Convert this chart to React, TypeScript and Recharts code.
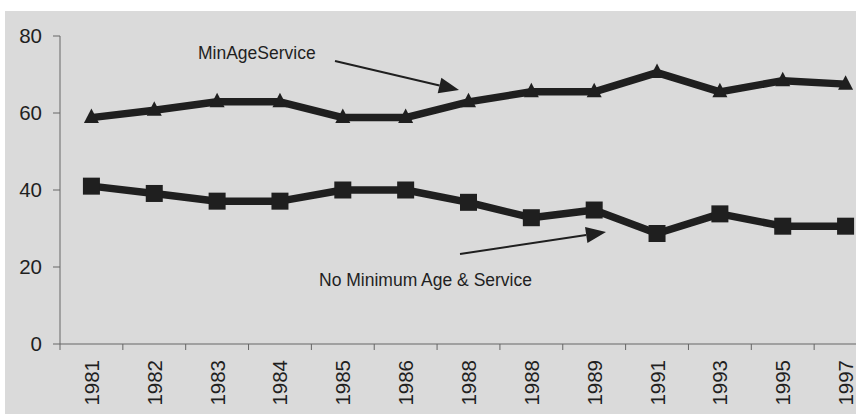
import { LineChart, Line, XAxis, YAxis } from 'recharts';

const years = ['1981', '1982', '1983', '1984', '1985', '1986', '1988', '1988', '1989', '1991', '1993', '1995', '1997'];
const minAgeService = [58.8, 60.7, 62.9, 62.9, 58.8, 58.8, 62.9, 65.5, 65.5, 70.5, 65.5, 68.4, 67.5];
const noMinimum = [41, 39.1, 37.1, 37.1, 40, 40, 36.8, 32.8, 34.8, 28.7, 33.8, 30.6, 30.6];
const yTicks = [0, 20, 40, 60, 80];

const data = years.map((year, i) => ({
  year,
  minAge: minAgeService[i],
  noMin: noMinimum[i],
}));

const FONT = '"Liberation Sans", Arial, Helvetica, sans-serif';
const INK = '#1f1f1f';
const CHART_W = 900;
const CHART_H = 414;
const LEFT = 60;
const RIGHT_MARGIN = 23;
const STEP = (CHART_W - LEFT - RIGHT_MARGIN) / years.length;

function Triangle(props: any) {
  const { cx, cy } = props;
  if (cx == null || cy == null) return null;
  return <polygon points={`${cx},${cy - 9} ${cx + 7.5},${cy + 5.5} ${cx - 7.5},${cy + 5.5}`} fill={INK} />;
}

function Square(props: any) {
  const { cx, cy } = props;
  if (cx == null || cy == null) return null;
  return <rect x={cx - 8.5} y={cy - 8.5} width={17} height={17} fill={INK} />;
}

// year labels sit in the middle of each band, tick marks on the band edges
function YearTick(props: any) {
  const { x, y, payload } = props;
  const edge = x - STEP / 2;
  return (
    <g>
      <line x1={edge} y1={y} x2={edge} y2={y + 6} stroke="#666" strokeWidth={1} />
      <text
        x={x}
        y={y}
        transform={`rotate(-90, ${x}, ${y}) translate(-16, 7.5)`}
        textAnchor="end"
        fontFamily={FONT}
        fontSize={20.5}
        fill={INK}
      >
        {payload.value}
      </text>
    </g>
  );
}

function Arrow({ x1, y1, x2, y2 }: { x1: number; y1: number; x2: number; y2: number }) {
  const dx = x2 - x1;
  const dy = y2 - y1;
  const len = Math.sqrt(dx * dx + dy * dy);
  const ux = dx / len;
  const uy = dy / len;
  const head = 20;
  const half = 8;
  const bx = x2 - ux * head;
  const by = y2 - uy * head;
  return (
    <g>
      <line x1={x1} y1={y1} x2={bx} y2={by} stroke={INK} strokeWidth={2} />
      <polygon
        points={`${x2},${y2} ${bx - uy * half},${by + ux * half} ${bx + uy * half},${by - ux * half}`}
        fill={INK}
      />
    </g>
  );
}

export default function App() {
  return (
    <div
      style={{
        position: 'fixed',
        left: 0,
        top: 0,
        width: 856,
        height: 414,
        overflow: 'hidden',
        background: '#fff',
      }}
    >
      <div style={{ position: 'absolute', left: 5, top: 11, right: 0, bottom: 0, background: '#dadada' }} />
      <div style={{ position: 'absolute', left: 0, top: 0 }}>
        <LineChart width={CHART_W} height={CHART_H} data={data} margin={{ top: 36, right: RIGHT_MARGIN, bottom: 0, left: 0 }}>
          <XAxis
            dataKey="year"
            height={70}
            interval={0}
            padding={{ left: STEP / 2, right: STEP / 2 }}
            axisLine={{ stroke: '#666', strokeWidth: 1 }}
            tickLine={false}
            tickSize={0}
            tickMargin={0}
            tick={<YearTick />}
          />
          <YAxis
            width={LEFT}
            domain={[0, 80]}
            ticks={yTicks}
            tickSize={7}
            tickMargin={11}
            axisLine={{ stroke: '#666', strokeWidth: 1 }}
            tickLine={{ stroke: '#666', strokeWidth: 1 }}
            tick={{ fontFamily: FONT, fontSize: 20.5, fill: INK }}
          />
          <Line
            dataKey="minAge"
            stroke={INK}
            strokeWidth={7.5}
            strokeLinejoin="round"
            dot={<Triangle />}
            isAnimationActive={false}
          />
          <Line
            dataKey="noMin"
            stroke={INK}
            strokeWidth={7.5}
            strokeLinejoin="round"
            dot={<Square />}
            isAnimationActive={false}
          />
        </LineChart>
      </div>
      <svg width={856} height={414} style={{ position: 'absolute', left: 0, top: 0, pointerEvents: 'none' }}>
        <text x={198} y={59} fontFamily={FONT} fontSize={17.5} fill={INK}>
          MinAgeService
        </text>
        <Arrow x1={335} y1={61} x2={459} y2={90} />
        <text x={319} y={286} fontFamily={FONT} fontSize={17.5} fill={INK}>
          No Minimum Age &amp; Service
        </text>
        <Arrow x1={460} y1={254} x2={606} y2={232} />
      </svg>
    </div>
  );
}
